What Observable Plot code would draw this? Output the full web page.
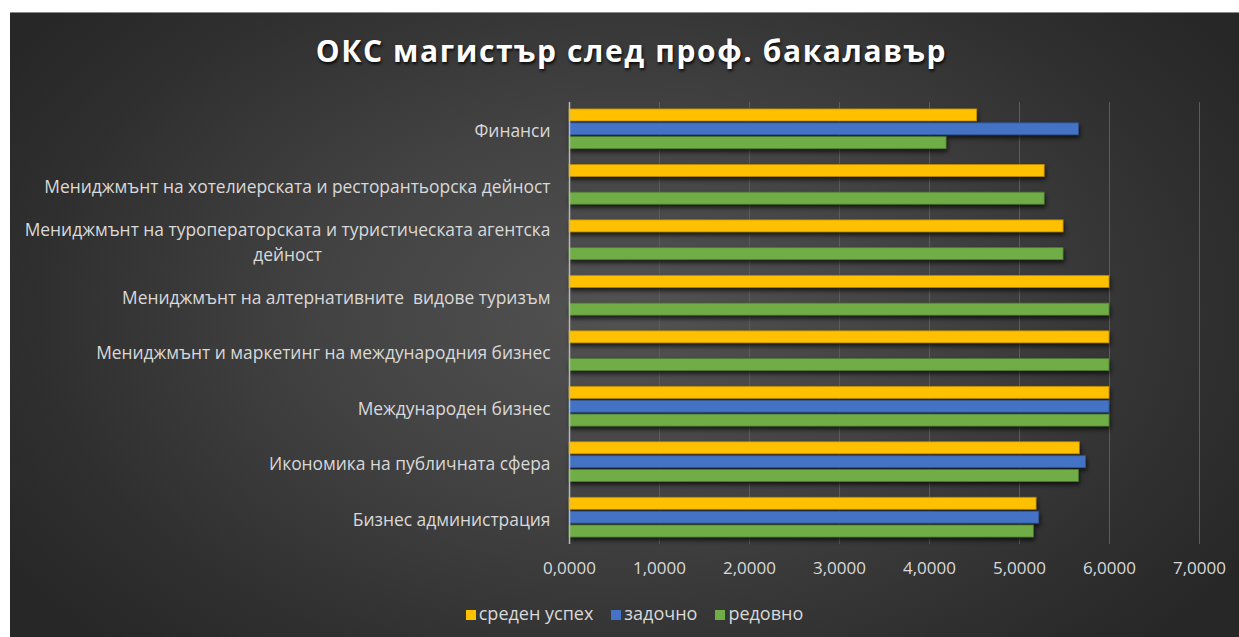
<!DOCTYPE html>
<html>
<head>
<meta charset="utf-8">
<script src="https://cdn.jsdelivr.net/npm/d3@7"></script>
<script src="https://cdn.jsdelivr.net/npm/@observablehq/plot@0.6"></script>
<style>
  html, body { margin: 0; padding: 0; background: #ffffff; width: 1239px; height: 637px; overflow: hidden; }
  #frame {
    position: absolute; left: 10px; top: 12px; width: 1229px; height: 625px; overflow: hidden;
    background: radial-gradient(ellipse 60% 75% at 50% 48%, #525252 0%, #434343 40%, #2f2f2f 80%, #272727 100%);
    border-top: 1px solid #8a8a8a;
    font-family: "Open Sans", sans-serif;
  }
  #title {
    position: absolute; left: 7px; top: 16px; width: 1229px; text-align: center;
    font-size: 30px; font-weight: 700; color: #ffffff; letter-spacing: 1.6px; line-height: 44px;
    text-shadow: 1px 2px 3px rgba(0,0,0,0.85);
  }
  #chart { position: absolute; left: 0; top: 78px; }
  #legend {
    position: absolute; left: 10px; top: 589px; width: 1229px; text-align: center;
    font-size: 18px; color: #d9d9d9; line-height: 22px;
  }
  #legend span.item { margin: 0 9px; white-space: nowrap; }
  #legend span.sw { display: inline-block; width: 10px; height: 10px; margin-right: 3px; vertical-align: 0px; }
</style>
</head>
<body>
<div id="frame">
  <div id="title"></div>
  <div id="chart"></div>
  <div id="legend"></div>
</div>
<script>
const title = "ОКС магистър след проф. бакалавър";
const categories = [
  "Финанси",
  "Мениджмънт на хотелиерската и ресторантьорска дейност",
  "Мениджмънт на туроператорската и туристическата агентска\nдейност",
  "Мениджмънт на алтернативните\u00a0 видове туризъм",
  "Мениджмънт и маркетинг на международния бизнес",
  "Международен бизнес",
  "Икономика на публичната сфера",
  "Бизнес администрация"
];
const series = ["среден успех", "задочно", "редовно"];
const sredenUspeh = [4.53, 5.28, 5.49, 6.00, 6.00, 6.00, 5.67, 5.19];
const zadochno    = [5.66, null, null, null, null, 6.00, 5.74, 5.22];
const redovno     = [4.19, 5.28, 5.49, 6.00, 6.00, 6.00, 5.66, 5.16];
const xTicks = [0, 1, 2, 3, 4, 5, 6, 7];
const fills = ["#FFC000", "#4472C4", "#70AD47"];
const strokes = ["#B88A00", "#2F528F", "#4E7A30"];

document.getElementById("title").textContent = title;

const seriesValues = [sredenUspeh, zadochno, redovno];
const rowsBySeries = seriesValues.map((arr, j) =>
  arr.map((v, i) => ({key: `${i}|${j}`, value: v})).filter(d => d.value != null)
);

const yDomain = [];
categories.forEach((c, i) => {
  if (i > 0) yDomain.push(`${i}|sp`);
  for (let j = 0; j < 3; j++) yDomain.push(`${i}|${j}`);
});

const fmt = d => d3.format(".4f")(d).replace(".", ",");

const plot = Plot.plot({
  width: 1229,
  height: 500,
  marginLeft: 559,
  marginRight: 40,
  marginTop: 11,
  marginBottom: 47,
  style: {background: "transparent", color: "#d9d9d9", fontFamily: "'Open Sans', sans-serif", fontSize: "17px", overflow: "visible"},
  x: {domain: [0, 7], label: null},
  y: {domain: yDomain, paddingInner: 0.13, paddingOuter: 0.5, round: false, label: null},
  marks: [
    Plot.ruleX(xTicks.slice(1), {stroke: "#5c5c5c", strokeWidth: 1}),
    ...rowsBySeries.map((rows, j) =>
      Plot.barX(rows, {x: "value", y: "key", fill: fills[j], stroke: strokes[j], strokeWidth: 0.8})
    ),
    Plot.ruleX([0], {stroke: "#b8b8b8", strokeWidth: 1.5}),
    Plot.axisX({ticks: xTicks, tickFormat: fmt, tickSize: 0, tickPadding: 17, fontSize: 17, label: null}),
    Plot.axisY({ticks: categories.map((c, i) => `${i}|1`), tickFormat: k => categories[+k.split("|")[0]], tickSize: 0, tickPadding: 19, fontSize: 17.4, lineHeight: 1.45, label: null})
  ]
});
document.getElementById("chart").appendChild(plot);

// bar shadows
plot.querySelectorAll('g[aria-label="bar"]').forEach(g => {
  g.style.filter = "drop-shadow(1px 3px 2px rgba(0,0,0,0.65))";
});
// center the wrapped category label's lines under each other
plot.querySelectorAll("text").forEach(t => {
  const spans = t.querySelectorAll("tspan");
  if (spans.length > 1) {
    const w = spans[0].getComputedTextLength();
    t.setAttribute("text-anchor", "middle");
    const tr = t.getAttribute("transform") || "";
    t.setAttribute("transform", tr + ` translate(${-w / 2},0)`);
  }
});

const legend = document.getElementById("legend");
series.forEach((s, j) => {
  const item = document.createElement("span");
  item.className = "item";
  const sw = document.createElement("span");
  sw.className = "sw";
  sw.style.background = fills[j];
  item.appendChild(sw);
  item.appendChild(document.createTextNode(s));
  legend.appendChild(item);
});
</script>
</body>
</html>
